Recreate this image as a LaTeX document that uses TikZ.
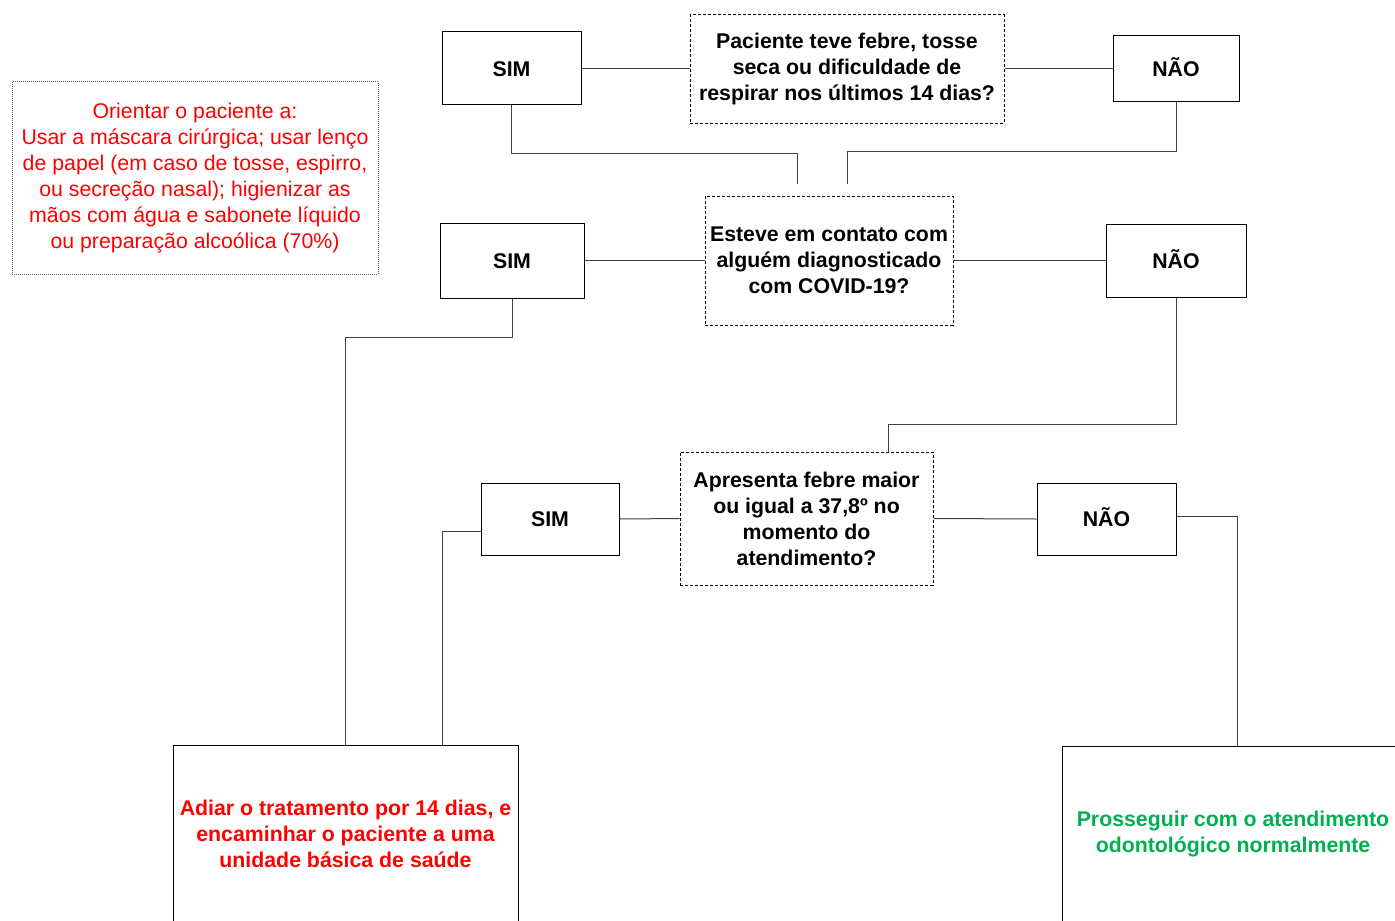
\documentclass[tikz,border=0pt]{standalone}
\usepackage{fontspec}
\setmainfont{Liberation Sans}

\begin{document}
\begin{tikzpicture}[x=0.5pt,y=-0.5pt,
    txt/.style={font=\fontsize{10.65}{13}\selectfont, align=center, inner sep=0pt},
    qbox/.style={txt, draw, line width=0.5pt, dash pattern=on 1.5pt off 1pt, font=\bfseries\fontsize{10.65}{13}\selectfont},
    ansbox/.style={txt, draw, line width=0.5pt, font=\bfseries\fontsize{10.65}{13}\selectfont, text height=7.6pt, text depth=0pt, minimum width=69.5pt, minimum height=36.5pt},
    endbox/.style={txt, draw, line width=0.5pt, font=\bfseries\fontsize{10.65}{13}\selectfont},
    link/.style={draw=black!75, line width=0.5pt}]
    % Cores
    \definecolor{alerta}{RGB}{255,0,0}
    \definecolor{segue}{RGB}{0,176,80}

    \useasboundingbox (0,0) rectangle (1395,920);
    \clip (0,0) rectangle (1395,920);

    % Perguntas
    \node[qbox, minimum width=157pt, minimum height=54pt] (q1) at (847,69)
        {Paciente teve febre, tosse\\seca ou dificuldade de\\respirar nos últimos 14 dias?};
    \node[qbox, minimum width=124pt, minimum height=64.5pt] (q2) at (829,260.5)
        {Esteve em contato com\\alguém diagnosticado\\com COVID-19?};
    \node[qbox, minimum width=126.5pt, minimum height=66.5pt] (q3) at (806.5,518.5)
        {Apresenta febre maior\\ou igual a 37,8º no\\momento do\\atendimento?};

    % Respostas
    \node[ansbox] (sim1) at (511.5,68.5) {SIM};
    \node[ansbox, minimum width=63pt, minimum height=33pt] (nao1) at (1176,69) {NÃO};
    \node[ansbox, minimum width=72pt, minimum height=37.5pt] (sim2) at (512,260.5) {SIM};
    \node[ansbox, minimum width=70pt] (nao2) at (1176,260.5) {NÃO};
    \node[ansbox, minimum width=69pt, minimum height=36pt] (sim3) at (550,519) {SIM};
    \node[ansbox, minimum height=36pt] (nao3) at (1106.5,519) {NÃO};

    % Orientações
    \node[txt, text=alerta, draw=black!60, line width=0.5pt, dash pattern=on 0.5pt off 0.5pt,
          minimum width=183pt, minimum height=96pt] (orientar) at (195,178)
        {Orientar o paciente a:\\ Usar a máscara cirúrgica; usar lenço\\de papel (em caso de tosse, espirro,\\ou secreção nasal); higienizar as\\mãos com água e sabonete líquido\\ou preparação alcoólica (70\%)};

    % Condutas
    \node[endbox, text=alerta, minimum width=172.5pt, minimum height=89pt] (adiar) at (345.5,834)
        {Adiar o tratamento por 14 dias, e\\encaminhar o paciente a uma\\unidade básica de saúde};
    \node[endbox, text=segue, minimum width=171pt, minimum height=88pt] (prosseguir) at (1233,834)
        {Prosseguir com o atendimento\\odontológico normalmente};

    % Pontas soltas acima da segunda pergunta
    \coordinate (e1) at (797,184);
    \coordinate (e2) at (847,184);

    % Ligações
    \draw[link] (sim1.east) -- (sim1.east -| q1.west);
    \draw[link] (q1.east |- nao1.west) -- (nao1.west);
    \draw[link] (sim1.south) -- ++(0,48) -| (e1);
    \draw[link] (nao1.south) -- ++(0,49) -| (e2);

    \draw[link] (sim2.east) -- (q2.west);
    \draw[link] (q2.east) -- (nao2.west);
    \draw[link] (sim2.south) -- ++(0,39) -| (adiar.north);
    \draw[link] (nao2.south) -- ++(0,127) -| ([xshift=40.75pt]q3.north);

    \draw[link] (sim3.east) -- (q3.west);
    \draw[link] (q3.east) -- (nao3.west);
    \draw[link] ([yshift=-6pt]sim3.west) -| ([xshift=48.25pt]adiar.north);
    \draw[link] ([yshift=1.5pt]nao3.east) -| ([xshift=2pt]prosseguir.north);
\end{tikzpicture}
\end{document}
